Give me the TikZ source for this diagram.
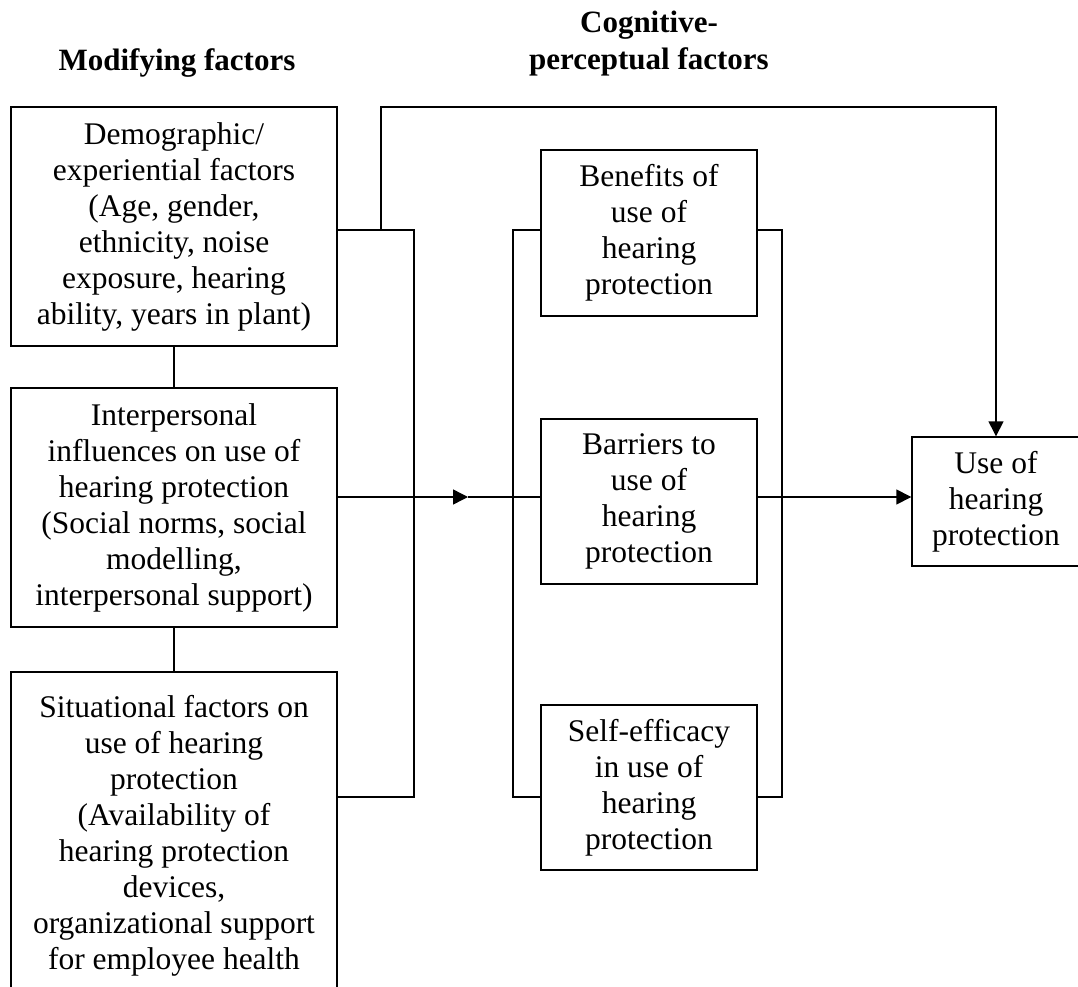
\documentclass[tikz,border=0pt]{standalone}
\usepackage{fontspec}
\setmainfont{Liberation Serif}
\usetikzlibrary{arrows.meta}

\begin{document}
\begin{tikzpicture}[
			x=1pt, y=-1pt,
			line width=1.4pt,
			factor/.style={draw, align=center, inner sep=0pt, font=\fontsize{31.5}{36}\selectfont},
			heading/.style={align=center, font=\fontsize{31}{37}\selectfont\bfseries},
			arr/.style={-{Triangle[length=15pt,width=15pt]}}
		]
		\useasboundingbox (0,0) rectangle (1078,987);
		\node[heading] (modhead) at (177,63) {Modifying factors};
		\node[heading] (coghead) at (649,44) {Cognitive-\\perceptual factors};
		\node[factor, minimum width=326pt, minimum height=239pt] (demo) at (174,226.5)
			{Demographic/\\experiential factors\\(Age, gender,\\ethnicity, noise\\exposure, hearing\\ability, years in plant)};
		\node[factor, minimum width=326pt, minimum height=239pt] (inter) at (174,507.5)
			{Interpersonal\\influences on use of\\hearing protection\\(Social norms, social\\modelling,\\interpersonal support)};
		\node[factor, minimum width=326pt, minimum height=328pt] (situ) at (174,836)
			{Situational factors on\\use of hearing\\protection\\(Availability of\\hearing protection\\devices,\\organizational support\\for employee health};
		\node[factor, minimum width=216pt, minimum height=166pt] (benef) at (649,233)
			{Benefits of\\use of\\hearing\\protection};
		\node[factor, minimum width=216pt, minimum height=165pt] (barr) at (649,501.5)
			{Barriers to\\use of\\hearing\\protection};
		\node[factor, minimum width=216pt, minimum height=165pt] (selfeff) at (649,787.5)
			{Self-efficacy\\in use of\\hearing\\protection};
		\node[factor, minimum width=168pt, minimum height=129pt] (use) at (996,501.5)
			{Use of\\hearing\\protection};
		\coordinate (toprow) at (0,230);
		\coordinate (midrow) at (0,497);
		\coordinate (botrow) at (0,797);
		\coordinate (split) at (381,230);
		\coordinate (tip) at (468,497);
		\draw (demo.south) -- (inter.north);
		\draw (inter.south) -- (situ.north);
		\draw (demo.east |- toprow) -- (414,230) -- (414,797) -- (situ.east |- botrow);
		\draw[arr] (split) -- (381,107) -- (996,107) -- (use.north);
		\draw[arr] (inter.east |- midrow) -- (tip);
		\draw (tip) -- (barr.west |- midrow);
		\draw (benef.west |- toprow) -- (513,230) -- (513,797) -- (selfeff.west |- botrow);
		\draw (benef.east |- toprow) -- (782,230) -- (782,797) -- (selfeff.east |- botrow);
		\draw[arr] (barr.east |- midrow) -- (use.west |- midrow);
	\end{tikzpicture}
\end{document}
